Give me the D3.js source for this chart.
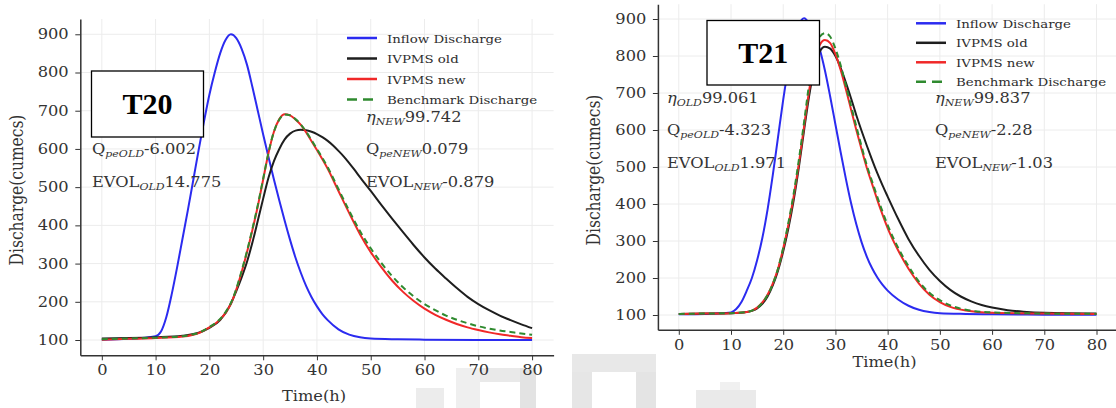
<!DOCTYPE html>
<html>
<head>
<meta charset="utf-8">
<script src="https://cdn.jsdelivr.net/npm/d3@7"></script>
<style>
  body { margin: 0; background: #fff; }
  svg { display: block; }
</style>
</head>
<body>
<svg id="chart" width="1116" height="408"></svg>
<script>
// ---------- data ----------
const xTickValues = [0, 10, 20, 30, 40, 50, 60, 70, 80];
const yTickValues = [100, 200, 300, 400, 500, 600, 700, 800, 900];
const seriesNames = ["Inflow Discharge", "IVPMS old", "IVPMS new", "Benchmark Discharge"];

// Event T20: [time (h), discharge (cumecs)]
const t20Inflow = [[0,101],[5,103],[10,110],[11,122],[12,160],[13,220],[14,290],[15,365],[16,440],[17,518],[18,597],[19,672],[20,742],[21,800],[22,850],[23,885],[24,900],[25,890],[26,862],[27,820],[28,762],[29,700],[30,638],[31,578],[32,520],[33,465],[34,412],[35,362],[36,316],[37,276],[38,241],[39,212],[40,188],[41,168],[42,152],[44,128],[46,114],[48,107],[50,104],[55,102],[60,101],[70,100],[80,100]];
const t20Old = [[0,104],[5,105],[10,107],[15,111],[18,119],[20,132],[22,152],[24,195],[25,228],[26,264],[27,305],[28,355],[29,412],[30,470],[31,525],[32,568],[33,600],[34,625],[35,640],[36,648],[37,650],[38,649],[39,645],[40,639],[41,631],[42,621],[43,609],[44,595],[45,580],[46,563],[47,545],[48,526],[49,508],[50,490],[52,453],[54,417],[56,382],[58,348],[60,316],[62,287],[64,261],[66,236],[68,213],[70,194],[72,178],[74,164],[76,152],[78,141],[80,131]];
const t20New = [[0,101],[5,103],[10,105],[15,109],[17,114],[18,118],[19,125],[20,133],[21,142],[22,154],[23,171],[24,195],[25,232],[26,278],[27,330],[28,388],[29,450],[30,520],[31,590],[32,645],[33,678],[34,691],[35,688],[36,677],[37,663],[38,643],[39,620],[40,597],[42,548],[44,490],[46,432],[48,377],[50,330],[52,290],[54,255],[56,226],[58,202],[60,182],[62,166],[64,153],[66,142],[68,133],[70,126],[72,120],[74,115],[76,111],[78,107],[80,105]];
const t20Bench = [[0,102],[5,104],[10,106],[15,110],[17,115],[18,119],[19,126],[20,134],[21,143],[22,155],[23,173],[24,197],[25,234],[26,281],[27,333],[28,391],[29,453],[30,522],[31,591],[32,645],[33,677],[34,690],[35,688],[36,678],[37,664],[38,645],[39,623],[40,600],[42,552],[44,495],[46,438],[48,385],[50,340],[52,301],[54,267],[56,238],[58,214],[60,194],[62,178],[64,164],[66,153],[68,144],[70,136],[72,130],[74,125],[76,121],[78,117],[80,114]];

// Event T21
const t21Inflow = [[0,102],[5,103],[10,107],[11,116],[12,135],[13,165],[14,200],[15,248],[16,308],[17,385],[18,478],[19,580],[20,682],[21,770],[22,840],[23,885],[24,902],[25,888],[26,860],[27,818],[28,760],[29,690],[30,615],[31,540],[32,468],[33,402],[34,345],[35,297],[36,258],[37,227],[38,202],[39,182],[40,166],[42,142],[44,125],[46,114],[48,108],[50,105],[55,103],[60,102],[70,101],[80,101]];
const t21Old = [[0,103],[5,104],[10,105],[13,108],[14,111],[15,118],[16,130],[17,150],[18,180],[19,220],[20,272],[21,335],[22,410],[23,500],[24,600],[25,695],[26,770],[27,812],[28,825],[29,820],[30,800],[31,768],[32,728],[33,685],[34,640],[35,598],[36,558],[37,520],[38,484],[39,451],[40,420],[42,360],[44,305],[46,260],[48,222],[50,192],[52,168],[54,150],[56,137],[58,127],[60,120],[63,113],[66,109],[70,106],[80,104]];
const t21New = [[0,103],[5,104],[10,105],[13,108],[14,112],[15,120],[16,134],[17,155],[18,185],[19,225],[20,280],[21,345],[22,420],[23,510],[24,610],[25,710],[26,785],[27,830],[28,843],[29,835],[30,805],[31,762],[32,710],[33,655],[34,600],[35,548],[36,498],[37,455],[38,412],[39,372],[40,335],[42,275],[44,225],[46,185],[48,155],[50,135],[52,122],[55,112],[60,106],[70,104],[80,103]];
const t21Bench = [[0,103],[5,104],[10,105],[13,108],[14,112],[15,119],[16,133],[17,154],[18,184],[19,225],[20,282],[21,350],[22,428],[23,520],[24,622],[25,728],[26,808],[27,852],[28,862],[29,852],[30,820],[31,775],[32,720],[33,665],[34,610],[35,556],[36,505],[37,462],[38,420],[39,380],[40,343],[42,282],[44,232],[46,190],[48,160],[50,140],[52,126],[55,114],[60,107],[70,104],[80,103]];

// goodness-of-fit labels: [symbol, subscript, value]
const t20StatsOld = [["Q", "peOLD", "-6.002"], ["EVOL", "OLD", "14.775"]];
const t20StatsNew = [["η", "NEW", "99.742"], ["Q", "peNEW", "0.079"], ["EVOL", "NEW", "-0.879"]];
const t21StatsOld = [["η", "OLD", "99.061"], ["Q", "peOLD", "-4.323"], ["EVOL", "OLD", "1.971"]];
const t21StatsNew = [["η", "NEW", "99.837"], ["Q", "peNEW", "-2.28"], ["EVOL", "NEW", "-1.03"]];

// ---------- styling ----------
const seriesStyle = [
  { color: "#2b2bf0", dash: null, legendDash: null },
  { color: "#1e1e1e", dash: null, legendDash: null },
  { color: "#f02828", dash: null, legendDash: null },
  { color: "#2f8a2f", dash: "6,4", legendDash: "10,6" }
];
const SERIF = "'DejaVu Serif', serif";
const STRETCH = 1.16;     // glyphs are drawn slightly wide
const textGrey = "#333";

const svg = d3.select("#chart");
svg.append("rect").attr("width", 1116).attr("height", 408).attr("fill", "#fff");

// faded watermark tiles along the bottom edge
const tiles = svg.append("g").attr("class", "watermark");
const tileRects = [
  [416, 388, 28, 20, "#ececec"], [456, 368, 24, 40, "#efefef"], [480, 368, 40, 14, "#e9e9e9"],
  [520, 368, 16, 40, "#e3e3e3"], [572, 354, 84, 18, "#e8e8e8"], [572, 372, 20, 36, "#e6e6e6"],
  [636, 372, 20, 36, "#e4e4e4"], [696, 390, 60, 18, "#eaeaea"], [720, 382, 20, 8, "#f0f0f0"]
];
tileRects.forEach(r => tiles.append("rect")
  .attr("x", r[0]).attr("y", r[1]).attr("width", r[2]).attr("height", r[3])
  .attr("fill", r[4]));

function stretchedText(g, x, y, anchor) {
  return g.append("text")
    .attr("transform", `translate(${x},${y}) scale(${STRETCH},1)`)
    .attr("text-anchor", anchor || "start")
    .attr("font-family", SERIF);
}

function statLabel(g, x, y, stat) {
  const t = stretchedText(g, x, y).attr("font-size", 14).attr("fill", textGrey);
  t.append("tspan").text(stat[0]).attr("font-style", stat[0] === "η" ? "italic" : "normal");
  t.append("tspan").text(stat[1]).attr("font-size", 9.5).attr("font-style", "italic").attr("dy", 3);
  t.append("tspan").text(stat[2]).attr("dy", -3);
}

function drawPanel(cfg) {
  const g = svg.append("g");
  const x = d3.scaleLinear().domain([-4, 84]).range([cfg.left, cfg.right]);
  const y = d3.scaleLinear().domain([60, 940]).range([cfg.bottom, cfg.top]);

  // grid
  g.append("g").selectAll("line").data(xTickValues).join("line")
    .attr("x1", d => x(d)).attr("x2", d => x(d))
    .attr("y1", cfg.top).attr("y2", cfg.bottom)
    .attr("stroke", "#ececec").attr("stroke-width", 1);
  g.append("g").selectAll("line").data(yTickValues).join("line")
    .attr("y1", d => y(d)).attr("y2", d => y(d))
    .attr("x1", cfg.left).attr("x2", cfg.right)
    .attr("stroke", "#ececec").attr("stroke-width", 1);

  // curves
  const line = d3.line().x(d => x(d[0])).y(d => y(d[1])).curve(d3.curveMonotoneX);
  cfg.series.forEach((s, i) => {
    g.append("path").datum(s)
      .attr("d", line)
      .attr("fill", "none")
      .attr("stroke", seriesStyle[i].color)
      .attr("stroke-width", 2)
      .attr("stroke-dasharray", seriesStyle[i].dash)
      .attr("stroke-linejoin", "round");
  });

  // axes (left and bottom spines only)
  const xAxis = g.append("g").attr("transform", `translate(0,${cfg.bottom})`)
    .call(d3.axisBottom(x).tickValues(xTickValues).tickSize(5).tickSizeOuter(0).tickPadding(5));
  const yAxis = g.append("g").attr("transform", `translate(${cfg.left},0)`)
    .call(d3.axisLeft(y).tickValues(yTickValues).tickSize(5).tickSizeOuter(0).tickPadding(5));
  [xAxis, yAxis].forEach(a => {
    a.select(".domain").attr("stroke", "#333").attr("stroke-width", 1.5);
    a.selectAll(".tick line").attr("stroke", "#333").attr("stroke-width", 1);
    a.selectAll(".tick text")
      .attr("font-family", SERIF).attr("font-size", 14).attr("fill", textGrey)
      .attr("transform", `scale(${STRETCH},1)`);
  });

  // axis titles
  stretchedText(g, cfg.xLabel[0], cfg.xLabel[1], "middle")
    .attr("font-size", 14).attr("fill", textGrey).text("Time(h)");
  g.append("text")
    .attr("transform", `translate(${cfg.yLabel[0]},${cfg.yLabel[1]}) rotate(-90) scale(1,${STRETCH})`)
    .attr("text-anchor", "middle").attr("font-family", SERIF)
    .attr("font-size", 15.5).attr("fill", textGrey).text("Discharge(cumecs)");

  // legend
  const lg = g.append("g").attr("transform", `translate(${cfg.legend[0]},${cfg.legend[1]})`);
  seriesNames.forEach((name, i) => {
    const row = lg.append("g").attr("transform", `translate(0,${i * cfg.legendGap})`);
    row.append("line").attr("x1", 0).attr("x2", 30).attr("y1", 0).attr("y2", 0)
      .attr("stroke", seriesStyle[i].color).attr("stroke-width", 2.5)
      .attr("stroke-dasharray", seriesStyle[i].legendDash);
    stretchedText(row, 40, 4.5).attr("font-size", 11.5).attr("fill", "#2e2e2e").text(name);
  });

  // fit statistics
  cfg.statsOld.forEach((s, i) => statLabel(g, cfg.oldX, cfg.oldY[i], s));
  cfg.statsNew.forEach((s, i) => statLabel(g, cfg.newX, cfg.newY[i], s));

  // event tag
  const b = cfg.box;
  g.append("rect").attr("x", b[0]).attr("y", b[1]).attr("width", b[2]).attr("height", b[3])
    .attr("fill", "#fff").attr("stroke", "#000").attr("stroke-width", 1.3);
  g.append("text").attr("x", b[0] + b[2] / 2).attr("y", b[1] + b[3] / 2 + 10)
    .attr("text-anchor", "middle")
    .attr("font-family", "'Liberation Serif', 'Times New Roman', serif")
    .attr("font-weight", "bold").attr("font-size", 30).attr("fill", "#000")
    .text(cfg.tag);
}

drawPanel({
  tag: "T20",
  series: [t20Inflow, t20Old, t20New, t20Bench],
  left: 80.3, right: 553.6, top: 19.0, bottom: 355.3,
  xLabel: [314, 401], yLabel: [23, 190],
  legend: [347, 38], legendGap: 20.5,
  oldX: 92, oldY: [154, 187], statsOld: t20StatsOld,
  newX: 366, newY: [122, 154, 187], statsNew: t20StatsNew,
  box: [91.5, 71, 112, 66]
});

drawPanel({
  tag: "T21",
  series: [t21Inflow, t21Old, t21New, t21Bench],
  left: 657.9, right: 1117.4, top: 4.2, bottom: 329.8,
  xLabel: [884.5, 367], yLabel: [600, 170],
  legend: [916, 23.3], legendGap: 19.5,
  oldX: 667, oldY: [103, 135, 168], statsOld: t21StatsOld,
  newX: 935, newY: [103, 135, 168], statsNew: t21StatsNew,
  box: [707, 20.5, 112.5, 64.5]
});
</script>
</body>
</html>
